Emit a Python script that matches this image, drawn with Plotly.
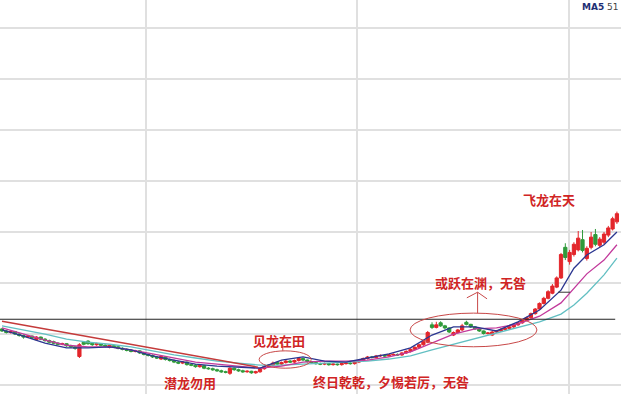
import plotly.graph_objects as go

# ---------------- data ----------------
idx = list(range(144))
opens = [21.0,20.6,20.3,20.5,20.0,19.7,19.4,19.6,18.9,19.4,19.0,18.7,18.5,18.2,18.0,18.1,17.7,17.5,15.6,18.4,
         18.6,18.2,17.9,18.1,17.8,17.4,17.7,17.5,17.2,17.0,16.8,16.6,16.7,16.3,16.0,15.8,15.5,15.1,15.5,15.0,
         14.8,14.5,14.3,14.5,14.0,13.9,13.6,13.8,13.3,13.2,13.0,12.8,12.6,12.3,13.3,13.0,12.8,12.6,12.7,12.4,
         12.6,13.2,13.6,13.9,14.4,14.1,14.4,14.7,14.5,14.8,15.2,14.9,14.6,14.4,14.2,14.1,14.2,14.0,14.1,14.0,
         14.2,14.3,14.2,14.5,14.8,15.2,15.5,15.4,15.7,15.8,15.7,15.9,16.0,15.9,16.3,16.6,17.0,17.4,17.9,18.4,
         21.8,21.3,22.2,21.6,21.2,19.8,20.3,20.8,22.3,21.9,21.4,21.0,20.6,20.1,19.8,20.4,20.6,20.9,21.1,21.4,
         21.8,22.2,22.7,23.2,24.0,24.9,26.0,27.0,28.0,29.2,31.0,37.0,34.2,35.6,36.5,38.5,34.8,37.0,39.5,37.4,
         38.0,39.4,40.6,42.0]
closes = [20.6,20.3,20.5,20.0,19.7,19.4,19.6,19.2,19.4,19.0,18.7,18.4,18.2,18.0,18.1,17.7,17.5,17.2,17.9,18.0,
          18.1,17.9,18.1,17.8,17.6,17.8,17.5,17.2,17.0,16.8,16.6,16.7,16.3,16.0,15.8,15.5,15.3,15.6,15.0,14.8,
          14.5,14.3,14.5,14.0,13.9,13.6,13.8,13.3,13.2,13.0,12.8,12.6,12.5,13.3,13.0,12.8,12.6,12.7,12.4,12.6,
          13.2,13.6,13.9,14.3,14.1,14.4,14.7,14.5,14.8,15.2,14.9,14.6,14.4,14.2,14.1,14.2,14.0,14.1,14.0,14.2,
          14.3,14.2,14.5,14.8,15.2,15.5,15.4,15.7,15.8,15.7,15.9,16.0,15.9,16.3,16.6,17.0,17.4,17.9,18.5,20.3,
          21.3,21.8,21.6,21.2,20.4,20.3,20.8,21.6,21.9,21.4,21.0,20.6,20.1,20.2,20.4,20.6,20.9,21.1,21.4,21.8,
          22.2,22.7,23.2,24.0,24.9,26.0,27.0,28.3,29.4,31.0,35.6,35.0,36.0,37.6,38.8,36.4,36.8,39.0,37.6,38.6,
          39.6,40.8,42.6,43.6]
highs = [21.2,20.8,20.7,20.6,20.2,19.9,19.8,19.7,19.6,19.5,19.2,18.9,18.7,18.4,18.3,18.2,17.9,17.6,18.2,18.6,
         18.8,18.4,18.3,18.2,18.0,18.0,17.9,17.6,17.4,17.2,17.0,16.9,16.8,16.5,16.2,16.0,15.7,15.8,15.6,15.2,
         15.0,14.7,14.7,14.6,14.2,14.1,14.0,13.9,13.5,13.4,13.2,13.0,12.8,13.5,13.4,13.2,13.0,12.9,12.8,12.8,
         13.4,13.8,14.1,14.6,14.6,14.6,14.9,14.9,15.0,15.4,15.3,15.0,14.7,14.5,14.4,14.4,14.3,14.3,14.2,14.4,
         14.5,14.5,14.7,15.0,15.4,15.7,15.7,15.9,16.0,16.0,16.1,16.2,16.2,16.5,16.8,17.2,17.6,18.1,18.7,20.6,
         22.3,22.4,22.5,21.8,21.3,20.5,21.0,22.0,22.6,22.0,21.5,21.1,20.7,20.4,20.6,20.8,21.1,21.3,21.6,22.0,
         22.4,22.9,23.4,24.2,25.1,26.2,27.3,28.6,29.8,31.3,35.9,37.8,36.5,38.0,40.2,40.4,37.2,40.0,40.6,39.0,
         40.0,41.2,43.0,44.0]
lows = [20.4,20.1,20.1,19.8,19.5,19.1,19.2,19.0,18.7,18.8,18.5,18.2,18.0,17.8,17.8,17.5,17.3,16.9,15.3,17.8,
        17.9,17.7,17.7,17.6,17.4,17.2,17.3,17.0,16.8,16.6,16.4,16.4,16.1,15.8,15.6,15.3,15.1,14.9,14.8,14.6,
        14.3,14.1,14.1,13.8,13.7,13.4,13.4,13.1,13.0,12.8,12.6,12.4,12.3,12.0,12.8,12.6,12.4,12.4,12.2,12.2,
        12.4,13.0,13.4,13.7,13.9,13.9,14.2,14.3,14.3,14.6,14.7,14.4,14.2,14.0,13.9,13.9,13.8,13.8,13.8,13.8,
        14.0,14.0,14.0,14.3,14.6,15.0,15.2,15.2,15.5,15.5,15.5,15.7,15.7,15.7,16.1,16.4,16.8,17.2,17.7,18.2,
        21.0,21.1,21.4,20.9,20.2,19.6,20.1,20.6,21.7,21.2,20.8,20.4,19.9,19.9,19.6,20.2,20.4,20.7,20.9,21.2,
        21.6,22.0,22.5,23.0,23.8,24.7,25.8,26.8,27.8,29.0,30.8,34.5,33.6,35.2,36.2,36.0,34.4,36.6,37.2,37.0,
        37.6,39.0,40.3,41.6]

ma_idx = [0,5,10,15,20,25,30,35,40,45,50,55,60,65,70,75,80,85,90,95,100,105,110,115,120,125,130,133,136,140,143]
ma5  = [20.8,19.6,18.2,17.3,17.3,17.5,16.9,15.7,14.9,14.1,13.7,13.5,13.3,14.9,15.5,14.7,14.5,15.3,16.1,17.3,
        19.8,21.4,21.4,20.6,22.4,24.7,28.6,32.9,35.5,37.5,40.0]
ma10 = [21.2,20.0,18.8,17.8,17.5,17.5,16.9,16.1,15.3,14.5,14.1,13.7,13.3,13.7,14.5,14.7,14.7,14.9,15.5,16.5,
        18.2,20.0,21.0,21.2,22.0,23.5,26.1,29.0,31.8,34.5,37.5]
ma20 = [21.6,20.8,20.0,19.0,18.4,18.0,17.5,16.7,15.9,15.3,14.7,14.3,13.9,13.9,14.1,14.3,14.5,14.7,15.1,15.7,
        16.9,18.0,19.2,20.2,21.4,22.4,23.9,25.7,28.0,31.6,34.9]

trend_x = [0, 59.5]
trend_y = [22.5, 13.5]
level_x = [-0.47, 142.6]
level_y = [22.9, 22.9]

labels = ["潜龙勿用", "见龙在田", "终日乾乾，夕惕若厉，无咎", "或跃在渊，无咎", "飞龙在天"]
label_x = [43.7, 64.4, 90.5, 111.2, 127.2]
label_y = [10.4, 18.8, 10.6, 30.2, 46.3]

grid_x = [33.5, 82.6, 131.9]
grid_y = [10, 20, 30, 40, 50, 60, 70, 80]

# ---------------- figure ----------------
RED = "#e3262b"
GREEN = "#2f9a3a"
TXT = "#d02424"

fig = go.Figure()
fig.add_trace(go.Candlestick(
    x=idx, open=opens, high=highs, low=lows, close=closes,
    increasing=dict(line=dict(color=RED, width=1), fillcolor=RED),
    decreasing=dict(line=dict(color=GREEN, width=1), fillcolor=GREEN),
    whiskerwidth=0, showlegend=False, hoverinfo="skip"))

fig.add_trace(go.Scatter(x=ma_idx, y=ma20, mode="lines", line=dict(color="#62bfc2", width=1.3), showlegend=False))
fig.add_trace(go.Scatter(x=ma_idx, y=ma10, mode="lines", line=dict(color="#c2399b", width=1.3), showlegend=False))
fig.add_trace(go.Scatter(x=ma_idx, y=ma5, mode="lines", line=dict(color="#2b3690", width=1.3), showlegend=False))
fig.add_trace(go.Scatter(x=trend_x, y=trend_y, mode="lines", line=dict(color="#c43a3a", width=1.5), showlegend=False))
fig.add_trace(go.Scatter(x=level_x, y=level_y, mode="lines", line=dict(color="#222222", width=1.2), showlegend=False))
# small cursor mark
fig.add_trace(go.Scatter(x=[129.3, 132.1], y=[28.2, 28.2], mode="lines", line=dict(color="#333333", width=1), showlegend=False))

# ellipses
ELL = "#c84848"
fig.add_shape(type="circle", xref="x", yref="y", x0=59.8, x1=71.9, y0=13.3, y1=16.7, line=dict(color=ELL, width=1))
fig.add_shape(type="circle", xref="x", yref="y", x0=94.9, x1=124.4, y0=17.5, y1=24.1, line=dict(color=ELL, width=1))
# connector from label to first ellipse
fig.add_trace(go.Scatter(x=[65.3, 65.3], y=[18.0, 16.7], mode="lines", line=dict(color=ELL, width=1), showlegend=False))
# arrow above second ellipse
fig.add_trace(go.Scatter(x=[110.6, 110.6], y=[24.1, 28.2], mode="lines", line=dict(color=ELL, width=1), showlegend=False))
fig.add_trace(go.Scatter(x=[108.1, 110.6, 112.8], y=[27.1, 28.2, 26.9], mode="lines", line=dict(color=ELL, width=1), showlegend=False))

for t, x, y in zip(labels, label_x, label_y):
    fig.add_annotation(x=x, y=y, xref="x", yref="y", text="<b>" + t + "</b>", showarrow=False,
                       font=dict(family="Noto Sans CJK SC", size=13, color=TXT))

fig.add_annotation(x=1.0, y=1.0, xref="paper", yref="paper", xanchor="right", yanchor="top",
                   text="<b>MA5</b> <span style='color:#444'>51</span>", showarrow=False,
                   font=dict(family="DejaVu Sans", size=9, color="#1e2f74"))

fig.update_layout(
    width=621, height=394, margin=dict(l=0, r=0, t=0, b=0),
    paper_bgcolor="white", plot_bgcolor="white", showlegend=False,
    boxgap=0.25, boxgroupgap=0,
    xaxis=dict(range=[-0.47, 143.95], showticklabels=False, tickvals=grid_x, showgrid=True,
               gridcolor="#e0e0e0", gridwidth=1.6, zeroline=False, rangeslider=dict(visible=False),
               fixedrange=True),
    yaxis=dict(range=[8.24, 85.5], showticklabels=False, tickvals=grid_y, showgrid=True,
               gridcolor="#e0e0e0", gridwidth=1.6, zeroline=False, fixedrange=True),
)

fig.write_html("out.html")
